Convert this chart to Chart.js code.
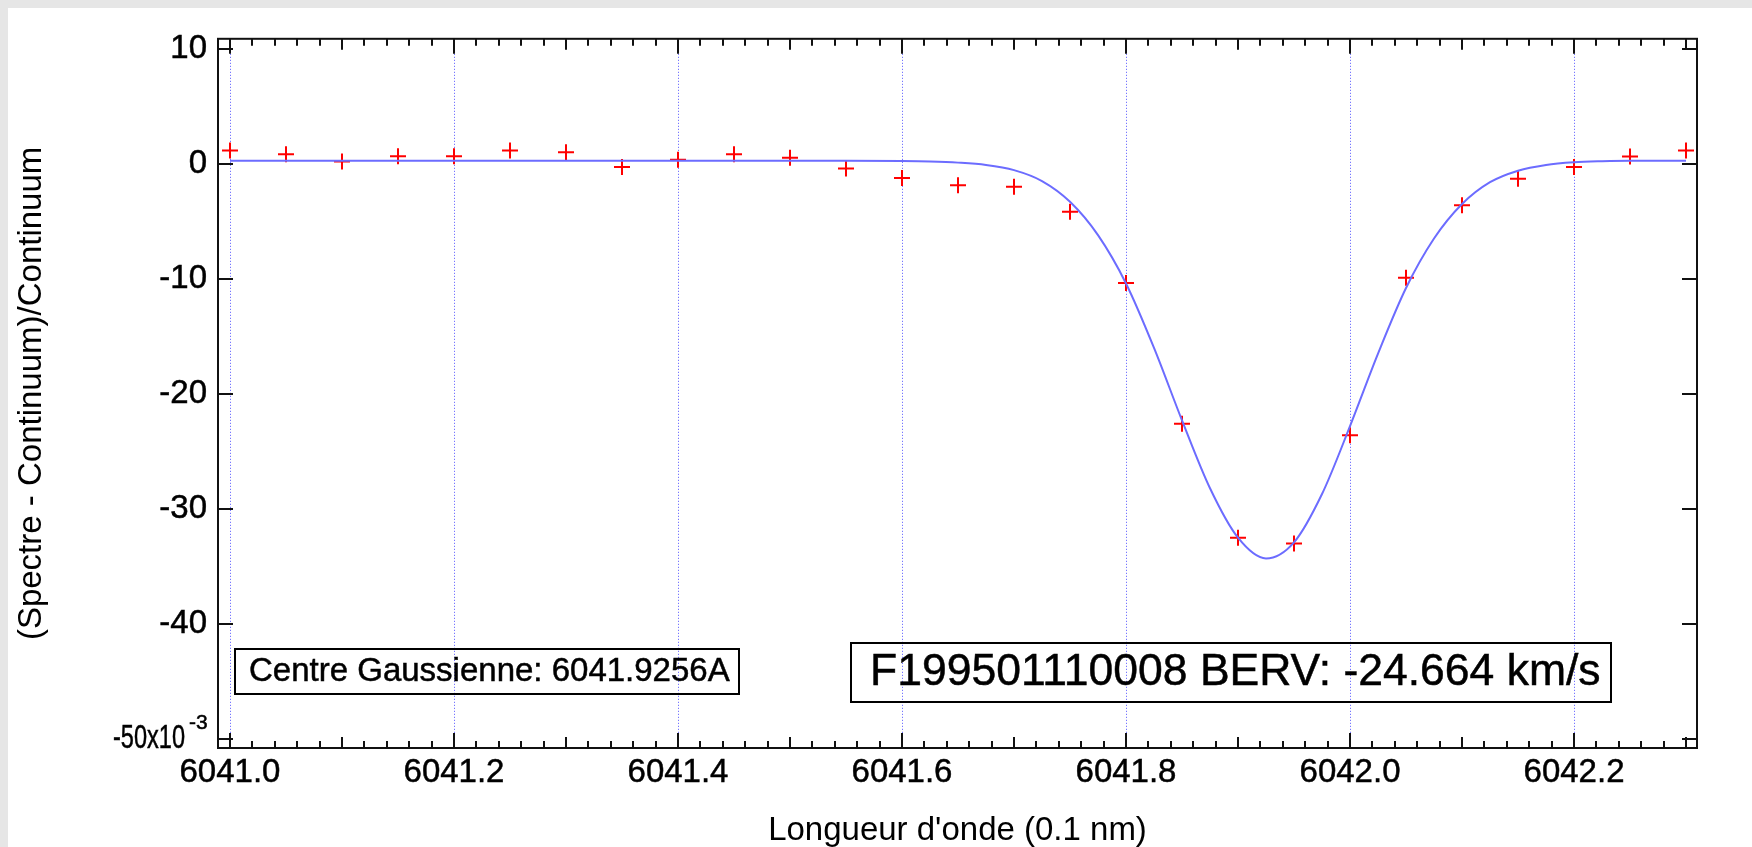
<!DOCTYPE html>
<html>
<head>
<meta charset="utf-8">
<script src="https://cdn.jsdelivr.net/npm/chart.js@4.4.1/dist/chart.umd.min.js"></script>
<style>
  html, body { margin: 0; padding: 0; background: #e6e6e6; overflow: hidden; }
  #wrap { position: absolute; left: 8px; top: 8px; width: 1744px; height: 839px; background: #fff; }
</style>
</head>
<body>
<div id="wrap"><canvas id="spectre" width="1744" height="839"></canvas></div>
<script>
// measured points (units of 1e-3)
const waveX = [6041.00, 6041.05, 6041.10, 6041.15, 6041.20, 6041.25, 6041.30, 6041.35, 6041.40,
               6041.45, 6041.50, 6041.55, 6041.60, 6041.65, 6041.70, 6041.75, 6041.80, 6041.85,
               6041.90, 6041.95, 6042.00, 6042.05, 6042.10, 6042.15, 6042.20, 6042.25, 6042.30];
const fluxY = [1.15, 0.83, 0.2, 0.66, 0.66, 1.15, 1.0, -0.29, 0.34,
               0.83, 0.52, -0.4, -1.24, -1.87, -2.0, -4.17, -10.37, -22.6,
               -32.5, -33.0, -23.6, -9.9, -3.6, -1.3, -0.29, 0.63, 1.15];

// gaussian fit
const fitX = [6041.00, 6041.10, 6041.20, 6041.30, 6041.40, 6041.50, 6041.55, 6041.60, 6041.625,
              6041.65, 6041.675, 6041.70, 6041.725, 6041.75, 6041.775, 6041.80, 6041.825, 6041.85,
              6041.875, 6041.90, 6041.925, 6041.95, 6041.975, 6042.00, 6042.025, 6042.05, 6042.075,
              6042.10, 6042.125, 6042.15, 6042.175, 6042.20, 6042.225, 6042.25, 6042.30];
const fitY = [0.26, 0.26, 0.26, 0.26, 0.26, 0.26, 0.26, 0.24, 0.2,
              0.1, -0.1, -0.55, -1.5, -3.3, -6.2, -10.4, -16.0, -22.3,
              -28.2, -32.5, -34.3, -32.9, -28.7, -22.8, -16.5, -10.8, -6.5,
              -3.5, -1.6, -0.6, -0.1, 0.13, 0.22, 0.26, 0.26];

const xTicks = [6041.0, 6041.2, 6041.4, 6041.6, 6041.8, 6042.0, 6042.2];
const yTicks = [10, 0, -10, -20, -30, -40, -50];

const xTitle = "Longueur d'onde (0.1 nm)";
const yTitle = '(Spectre - Continuum)/Continuum';
const gaussLabel = 'Centre Gaussienne: 6041.9256A';
const bervLabel = 'F199501110008 BERV: -24.664 km/s';

const FONT = "'Liberation Sans', Arial, sans-serif";
Chart.defaults.font.family = FONT;
Chart.defaults.color = '#000';

function heavyText(ctx, text, x, y, maxWidth) {
  ctx.lineWidth = 0.5;
  ctx.strokeStyle = '#000';
  if (maxWidth) {
    ctx.fillText(text, x, y, maxWidth);
    ctx.strokeText(text, x, y, maxWidth);
  } else {
    ctx.fillText(text, x, y);
    ctx.strokeText(text, x, y);
  }
}

const frame = {
  id: 'frame',
  beforeDatasetsDraw(chart) {
    const { ctx, chartArea: a, scales: { x } } = chart;
    ctx.save();
    ctx.strokeStyle = '#5555ff';
    ctx.lineWidth = 1;
    ctx.setLineDash([1, 2]);
    xTicks.forEach(v => {
      const px = Math.round(x.getPixelForValue(v)) + 0.5;
      ctx.beginPath();
      ctx.moveTo(px, a.top + 15);
      ctx.lineTo(px, a.bottom - 15);
      ctx.stroke();
    });
    ctx.restore();
  },
  afterDatasetsDraw(chart) {
    const { ctx, chartArea: a, scales: { x, y } } = chart;
    ctx.save();
    ctx.strokeStyle = '#111';
    ctx.lineWidth = 2;
    ctx.strokeRect(a.left, a.top, a.right - a.left, a.bottom - a.top);

    // x ticks every 0.02, pointing inwards top and bottom
    for (let i = 0; i <= 65; i++) {
      const px = Math.round(x.getPixelForValue(6041 + i * 0.02));
      if (px > a.right - 1) break;
      const len = i % 10 === 0 ? 15 : (i % 5 === 0 ? 11 : 7);
      ctx.beginPath();
      ctx.moveTo(px, a.bottom); ctx.lineTo(px, a.bottom - len);
      ctx.moveTo(px, a.top); ctx.lineTo(px, a.top + len);
      ctx.stroke();
    }
    yTicks.forEach(v => {
      const py = Math.round(y.getPixelForValue(v));
      ctx.beginPath();
      ctx.moveTo(a.left, py); ctx.lineTo(a.left + 15, py);
      ctx.moveTo(a.right, py); ctx.lineTo(a.right - 15, py);
      ctx.stroke();
    });

    // bottom tick label with exponent
    const py50 = y.getPixelForValue(-50);
    ctx.fillStyle = '#000';
    ctx.textBaseline = 'middle';
    ctx.textAlign = 'right';
    ctx.font = '33px ' + FONT;
    heavyText(ctx, '-50x10', a.left - 33, py50, 72);
    ctx.textAlign = 'left';
    ctx.font = '21px ' + FONT;
    heavyText(ctx, '-3', a.left - 29, py50 - 16);

    // annotation boxes
    ctx.lineWidth = 2;
    ctx.strokeRect(a.left + 17, a.bottom - 99, 504, 45);
    ctx.font = '33px ' + FONT;
    heavyText(ctx, gaussLabel, a.left + 31, a.bottom - 76);

    ctx.lineWidth = 2;
    ctx.strokeRect(a.left + 633, a.bottom - 105, 760, 59);
    ctx.font = '44.5px ' + FONT;
    heavyText(ctx, bervLabel, a.left + 652, a.bottom - 75);
    ctx.restore();
  }
};

new Chart(document.getElementById('spectre').getContext('2d'), {
  type: 'scatter',
  data: {
    datasets: [{
      type: 'line',
      label: 'fit',
      data: fitX.map((v, i) => ({ x: v, y: fitY[i] })),
      borderColor: '#6c6cff',
      borderWidth: 2,
      pointRadius: 0,
      fill: false,
      cubicInterpolationMode: 'monotone',
      order: 0
    }, {
      label: 'spectre',
      data: waveX.map((v, i) => ({ x: v, y: fluxY[i] })),
      pointStyle: 'cross',
      pointRadius: 8,
      pointBorderWidth: 2,
      borderColor: '#ff0000',
      backgroundColor: '#ff0000',
      order: 1
    }]
  },
  options: {
    responsive: false,
    animation: false,
    devicePixelRatio: 1,
    layout: { padding: { top: 25, right: 55, left: 0, bottom: 0 } },
    plugins: { legend: { display: false }, tooltip: { enabled: false } },
    scales: {
      x: {
        type: 'linear',
        min: 6040.9893,
        max: 6042.3098,
        afterBuildTicks: s => { s.ticks = xTicks.map(v => ({ value: v })); },
        afterFit: s => { s.height = 99; },
        grid: { display: false, drawTicks: false },
        border: { display: false },
        ticks: {
          padding: 5,
          autoSkip: false,
          maxRotation: 0,
          font: { size: 33 },
          textStrokeColor: '#000',
          textStrokeWidth: 0.5,
          callback: v => v.toFixed(1)
        },
        title: { display: true, text: xTitle, font: { size: 33, lineHeight: 0.95 }, padding: { top: 0, bottom: 0 } }
      },
      y: {
        type: 'linear',
        min: -50.776,
        max: 10.862,
        afterBuildTicks: s => { s.ticks = yTicks.map(v => ({ value: v })); },
        afterFit: s => { s.width = 210; },
        grid: { display: false, drawTicks: false },
        border: { display: false },
        ticks: {
          padding: 11,
          font: { size: 33 },
          textStrokeColor: '#000',
          textStrokeWidth: 0.5,
          callback: v => (v === -50 ? '' : String(v))
        },
        title: { display: true, text: yTitle, font: { size: 33 }, padding: { top: 4, bottom: 0 } }
      }
    }
  },
  plugins: [frame]
});
</script>
</body>
</html>
